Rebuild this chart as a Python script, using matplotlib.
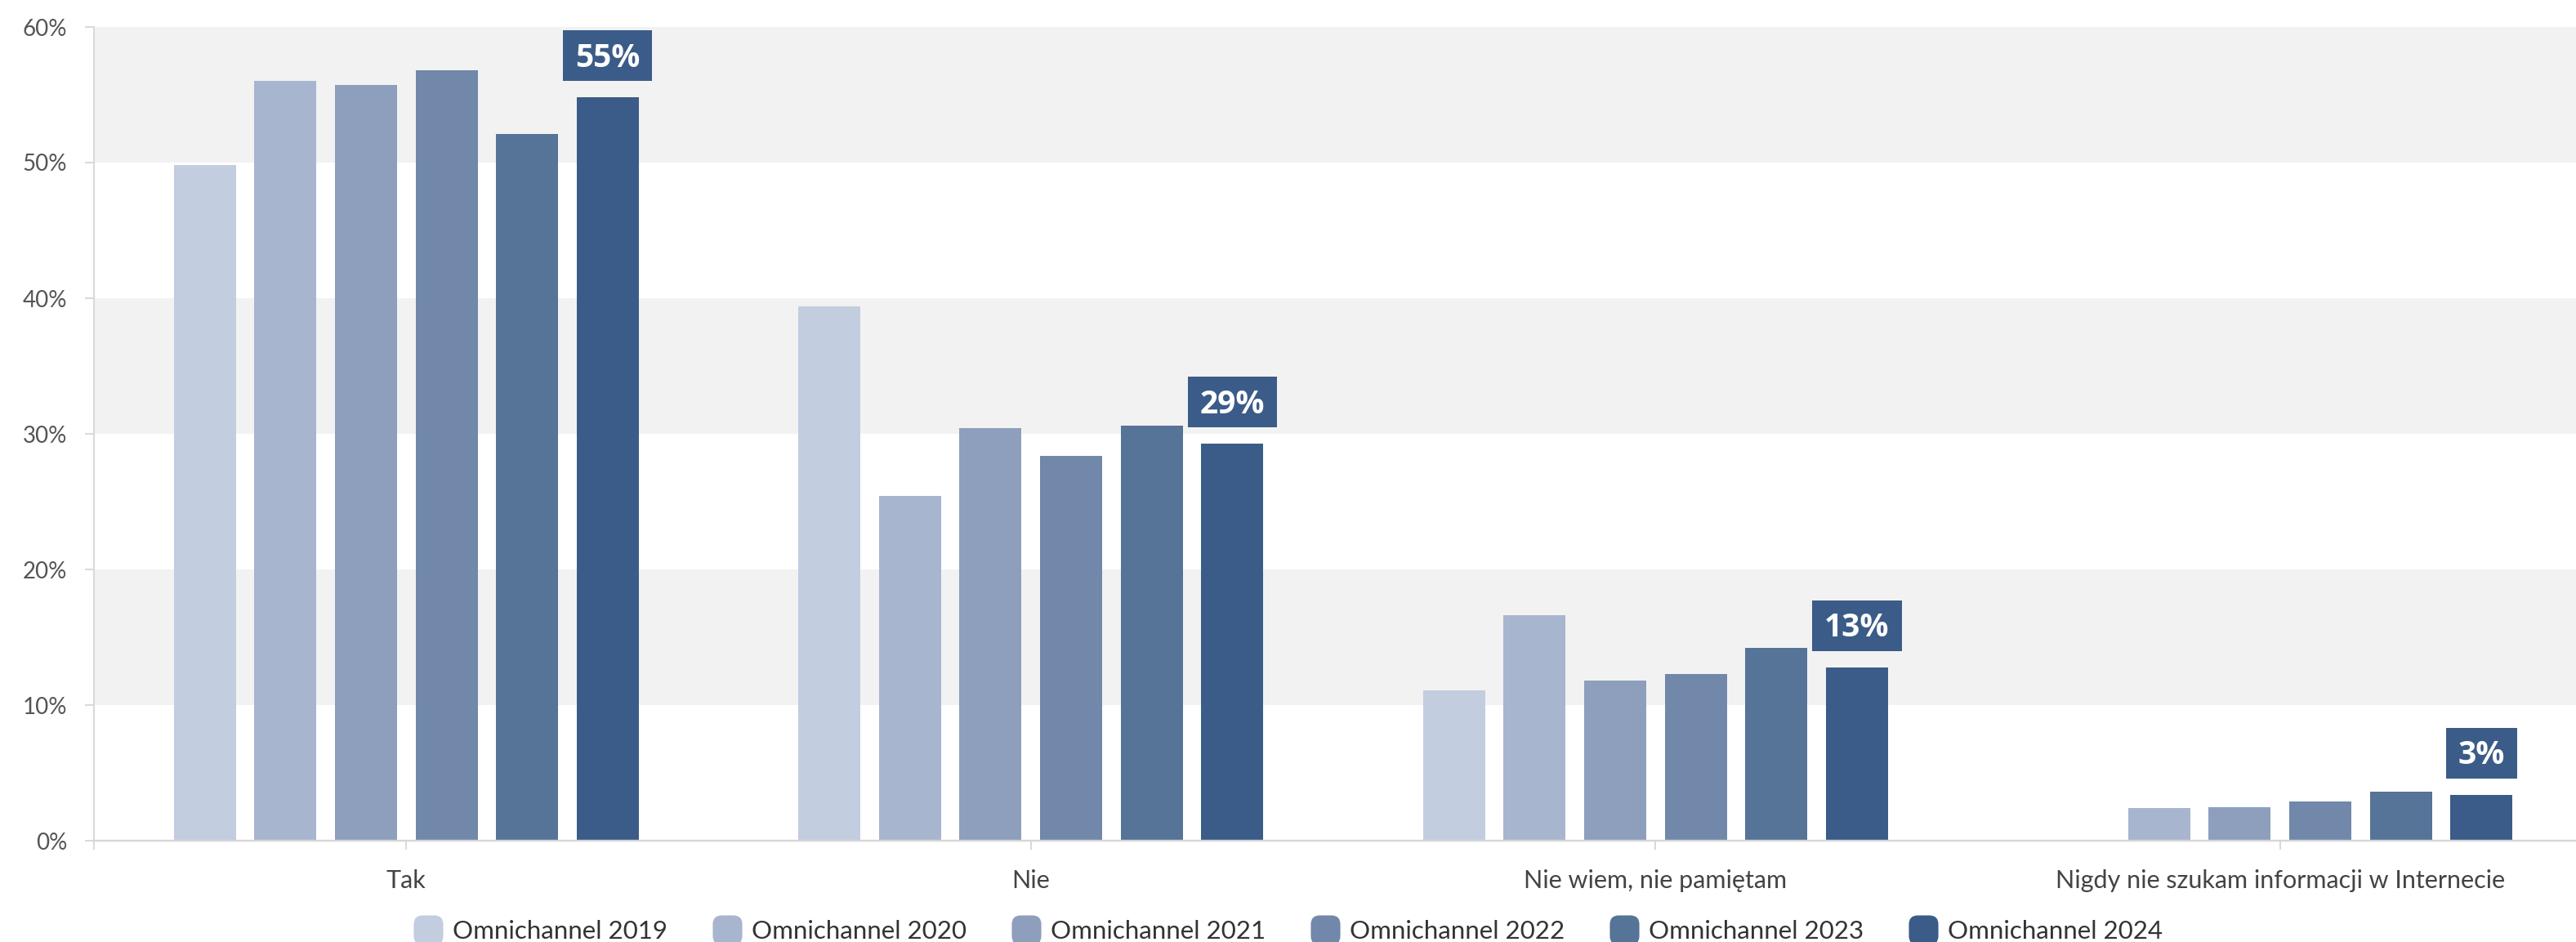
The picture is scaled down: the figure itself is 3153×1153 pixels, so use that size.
import matplotlib
matplotlib.use("Agg")
import matplotlib.pyplot as plt
from matplotlib.transforms import ScaledTranslation
from matplotlib.patches import Rectangle, FancyBboxPatch
from matplotlib.lines import Line2D
import numpy as np

plt.rcParams["font.family"] = ["Lato", "DejaVu Sans"]

# --- data -------------------------------------------------------------
categories = ["Tak", "Nie", "Nie wiem, nie pamiętam",
              "Nigdy nie szukam informacji w Internecie"]
series_names = ["Omnichannel 2019", "Omnichannel 2020", "Omnichannel 2021",
                "Omnichannel 2022", "Omnichannel 2023", "Omnichannel 2024"]
v2019 = [49.8, 39.4, 11.1, None]
v2020 = [56.0, 25.4, 16.6, 2.4]
v2021 = [55.7, 30.4, 11.8, 2.5]
v2022 = [56.8, 28.4, 12.3, 2.9]
v2023 = [52.1, 30.6, 14.2, 3.6]
v2024 = [54.8, 29.3, 12.8, 3.4]
series_values = [v2019, v2020, v2021, v2022, v2023, v2024]
y_ticks = [0, 10, 20, 30, 40, 50, 60]

# --- style ------------------------------------------------------------
colors = ["#c3cde0", "#a8b5cf", "#8d9fbd", "#7188aa", "#567398", "#3b5c88"]
band_color = "#f2f2f2"
axis_color = "#d8d8d8"

W, H, DPI = 3153, 1153, 100
fig = plt.figure(figsize=(W / DPI, H / DPI), dpi=DPI)
ax = fig.add_axes([115 / W, 124 / H, (3173 - 115) / W, (1029 - 33) / H])

# alternating horizontal bands
for lo in (10, 30, 50):
    ax.axhspan(lo, lo + 10, color=band_color, zorder=0, lw=0)

pitch = 0.129
bar_w = 0.0994
xc = np.arange(len(categories))
n = len(series_values)
for i, (vals, col) in enumerate(zip(series_values, colors)):
    xs = [x + (i - (n - 1) / 2) * pitch for x, v in zip(xc, vals) if v is not None]
    hs = [v for v in vals if v is not None]
    ax.bar(xs, hs, width=bar_w, color=col, zorder=2, lw=0)

ax.set_xlim(-0.5, len(categories) - 0.5)
ax.set_ylim(0, 60)

# value labels for the latest series
renderer = fig.canvas.get_renderer()
last = series_values[-1]
fs_lab = 28
cap_px = 0.714 * fs_lab * DPI / 72
for x, v in zip(xc, last):
    if v is None:
        continue
    bx = x + (n - 1) / 2 * pitch
    trans = fig.dpi_scale_trans + ScaledTranslation(bx, v, ax.transData)
    t = ax.text(0, (51 - cap_px / 2) / DPI, f"{round(v)}%", transform=trans,
                ha="center", va="baseline", color="white", fontsize=fs_lab,
                fontweight="bold", family=["Open Sans", "DejaVu Sans"],
                zorder=6, clip_on=False)
    w = t.get_window_extent(renderer).width + 30
    ax.add_patch(Rectangle((-w / 2 / DPI, 20 / DPI), w / DPI, 62 / DPI,
                           transform=trans, facecolor=colors[-1],
                           edgecolor="none", zorder=5, clip_on=False))

# axes
ax.set_yticks(y_ticks)
ax.set_yticklabels([f"{t}%" for t in y_ticks])
ax.set_xticks(xc)
ax.set_xticklabels(categories)
ax.set_xticks([-0.5], minor=True)
ax.tick_params(axis="y", length=7.9, width=1.4, color=axis_color, pad=15.8,
               labelsize=20, labelcolor="#555555")
ax.tick_params(axis="x", which="both", length=7.9, width=1.4, color=axis_color,
               pad=17, labelsize=22, labelcolor="#444444")
for s in ("top", "right"):
    ax.spines[s].set_visible(False)
ax.spines["left"].set_color(axis_color)
ax.spines["left"].set_linewidth(1.4)
ax.spines["bottom"].set_color("#d6d6d6")
ax.spines["bottom"].set_linewidth(1.7)
ax.spines["bottom"].set_zorder(3)

# legend with rounded-square symbols
rounded = FancyBboxPatch((-0.5, -0.5), 1, 1,
                         boxstyle="round,pad=0,rounding_size=0.3").get_path()
handles = [Line2D([], [], marker=rounded, ls="none", markersize=26,
                  markerfacecolor=c, markeredgecolor="none") for c in colors]
fig.legend(handles, series_names, loc="center", bbox_to_anchor=(0.5, 13 / H),
           ncol=6, frameon=False, fontsize=22.5, handlelength=1.15,
           handletextpad=0.38, columnspacing=1.76, labelcolor="#333333")

fig.savefig("out.png", dpi=DPI)
